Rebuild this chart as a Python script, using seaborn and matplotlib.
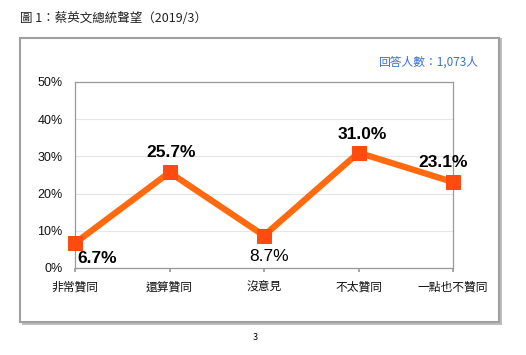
import matplotlib
matplotlib.use("Agg")
import matplotlib.pyplot as plt
from matplotlib.patches import Rectangle
import seaborn as sns
import pandas as pd

categories = ["非常贊同", "還算贊同", "沒意見", "不太贊同", "一點也不贊同"]
values = [6.7, 25.7, 8.7, 31.0, 23.1]
label_bold = [True, True, False, True, True]
label_offsets = [(16, -11), (1.5, 14), (3.5, -15), (3, 13), (-7, 14)]
yticks = [0, 10, 20, 30, 40, 50]

sns.set_theme(style="white")
plt.rcParams['font.family'] = ['Noto Sans CJK TC', 'DejaVu Sans']
num_font = ['Liberation Sans', 'DejaVu Sans']

fig = plt.figure(figsize=(5.26, 3.55), dpi=100)
fig.patch.set_facecolor("white")

# outer frame with shadow
fig.add_artist(Rectangle((22/526, 1-325/355), 480/526, 287/355, transform=fig.transFigure,
                         facecolor="#bdbdbd", edgecolor="none", zorder=-3))
fig.add_artist(Rectangle((20/526, 1-322/355), 479/526, 284/355, transform=fig.transFigure,
                         facecolor="white", edgecolor="#a0a0a0", linewidth=1.5, zorder=-2))

ax = fig.add_axes([75/526, 1-268/355, 378/526, 186/355])
ax.set_zorder(1)
ax.set_facecolor("none")
df = pd.DataFrame({"cat": range(len(categories)), "val": values})
sns.lineplot(data=df, x="cat", y="val", ax=ax, color="#FF6A10", linewidth=4.5,
             marker="s", markersize=9.5, markerfacecolor="#FF4A10", markeredgecolor="#FF4A10",
             clip_on=False, zorder=3)

ax.set_xlim(0, len(categories) - 1)
ax.set_ylim(0, 50)
ax.set_xticks(range(len(categories)))
ax.set_xticklabels(categories, fontsize=8.5, color="#111111")
ax.set_yticks(yticks)
ax.set_yticklabels([f"{t}%" for t in yticks], fontsize=9, family=num_font, color="#111111")
ax.set_xlabel("")
ax.set_ylabel("")
ax.grid(axis="y", color="#e6e6e6", linewidth=0.8)
for s in ax.spines.values():
    s.set_color("#9a9a9a")
    s.set_linewidth(0.9)
ax.tick_params(axis="x", length=3, color="#9a9a9a", pad=6, direction="out", bottom=True)
ax.tick_params(axis="y", length=0, pad=9, left=False)

for i, (v, b, off) in enumerate(zip(values, label_bold, label_offsets)):
    ax.annotate(f"{v:.1f}%", (i, v), xytext=off, textcoords="offset points",
                ha="center", va="center", fontsize=12.5, family=num_font,
                fontweight="bold" if b else "normal", color="black", annotation_clip=False)

fig.text(20/526, 1-18/355, "圖 1：蔡英文總統聲望（2019/3）", fontsize=9, ha="left", va="center",
         color="#222222")
fig.text(478/526, 1-62/355, "回答人數：1,073人", fontsize=8.5, ha="right", va="center",
         color="#3a6fd8")
fig.text(255/526, 1-338/355, "3", fontsize=6.5, ha="center", va="center", color="black")

fig.savefig("out.png", dpi=100)
